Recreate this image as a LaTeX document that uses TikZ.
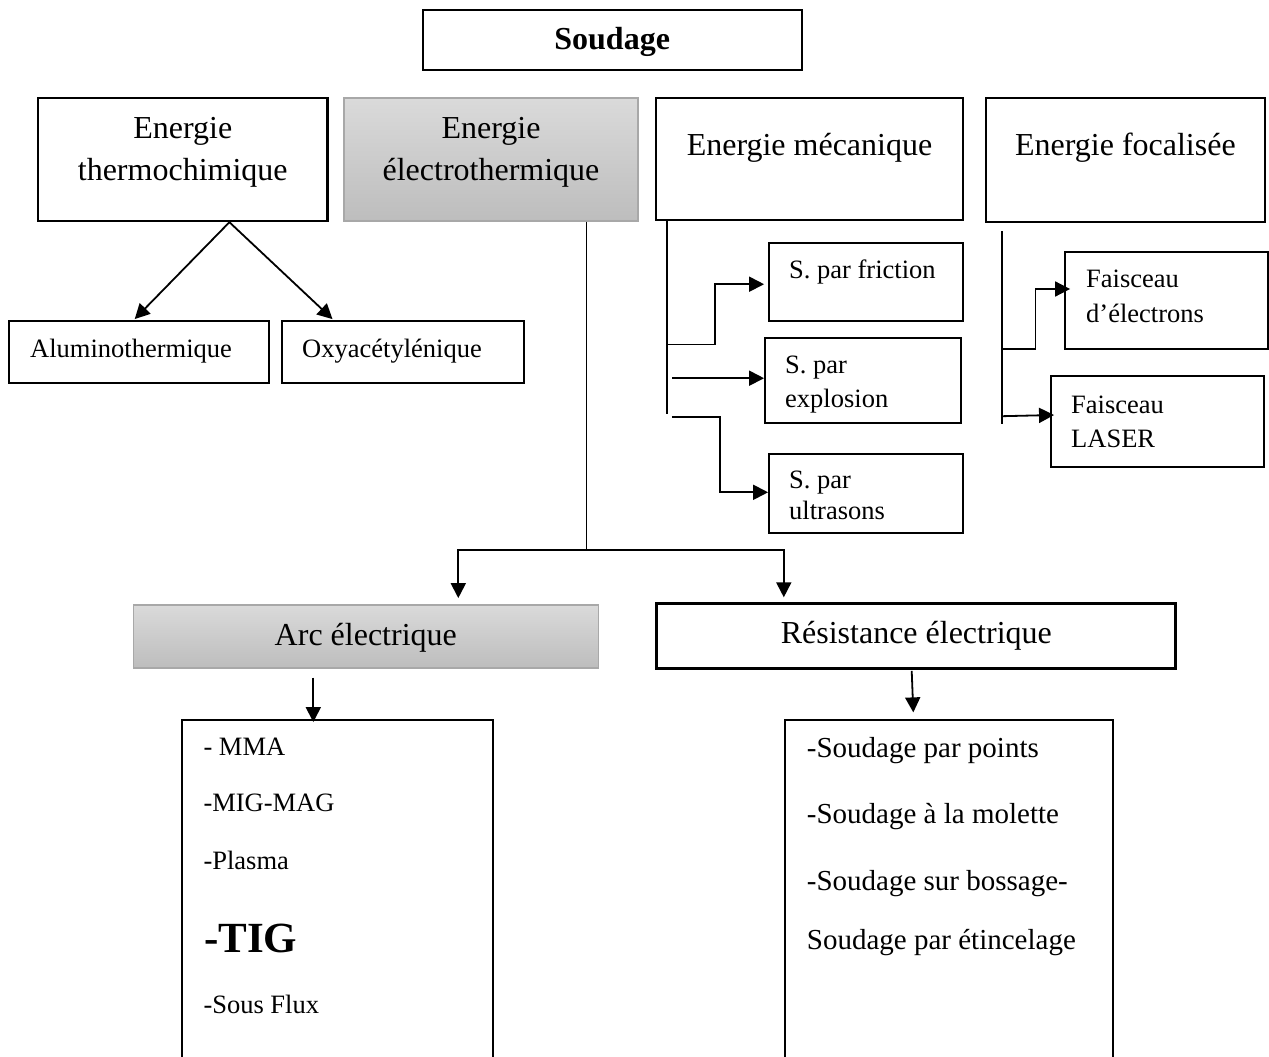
\documentclass[tikz,border=0pt]{standalone}
\usepackage{fontspec}
\setmainfont{Liberation Serif}
\usetikzlibrary{arrows.meta,calc}
\definecolor{gtop}{HTML}{DADADA}
\definecolor{gbot}{HTML}{BDBDBD}
\definecolor{gline}{HTML}{A8A8A8}
\begin{document}
\begin{tikzpicture}[x=1pt,y=-1pt,
  box/.style={draw=black, line width=1.8pt, inner sep=0pt, fill=white},
  bigbox/.style={box, line width=2.4pt},
  graybox/.style={draw=gline, line width=1.4pt, top color=gtop, bottom color=gbot, inner sep=0pt},
  conn/.style={line width=1.8pt, draw=black},
  arr/.style={-{Triangle[length=15pt,width=15pt]}},
  bigtxt/.style={font=\fontsize{32}{38}\selectfont, inner sep=0pt, anchor=base},
  midtxt/.style={font=\fontsize{29}{34}\selectfont, inner sep=0pt, anchor=base west},
  smalltxt/.style={font=\fontsize{26.5}{31}\selectfont, inner sep=0pt, anchor=base west}]
\clip (0,0) rectangle (1269,1057);
\fill[white] (0,0) rectangle (1269,1057);

% ---- boxes ----
\node[box, minimum width=379pt, minimum height=60pt] (soud) at (612.2,40) {};
\node[bigbox, minimum width=289.5pt, minimum height=123pt] (thermo) at (182.75,159.5) {};
\node[graybox, minimum width=294pt, minimum height=123pt] (electro) at (491,159.5) {};
\node[bigbox, minimum width=307pt, minimum height=122pt] (meca) at (809.5,159) {};
\node[bigbox, minimum width=279.3pt, minimum height=124pt] (focal) at (1125.4,160) {};
\node[box, minimum width=260pt, minimum height=62pt] (alu) at (139,352) {};
\node[box, minimum width=242pt, minimum height=62pt] (oxy) at (403,352) {};
\node[box, minimum width=194pt, minimum height=78pt] (fric) at (866,281.7) {};
\node[box, minimum width=196pt, minimum height=85pt] (expl) at (863,380.2) {};
\node[box, minimum width=194pt, minimum height=78.7pt] (ultra) at (866,493.3) {};
\node[box, minimum width=203pt, minimum height=97pt] (elec) at (1166.5,300.8) {};
\node[box, minimum width=213.3pt, minimum height=91pt] (laser) at (1157.3,421.2) {};
\node[graybox, minimum width=465pt, minimum height=63pt] (arc) at (365.8,636.5) {};
\node[bigbox, line width=3pt, minimum width=519.3pt, minimum height=65pt] (res) at (916.3,635.8) {};
\node[box, minimum width=310.4pt, minimum height=360pt] (mma) at (337.5,900) {};
\node[box, minimum width=328pt, minimum height=360pt] (list) at (949,900) {};

% ---- texts ----
\node[bigtxt, font=\fontsize{32}{38}\selectfont\bfseries] (soud-t) at (612.2,50) {Soudage};
\node[bigtxt] (thermo-t1) at (182.75,138) {Energie};
\node[bigtxt] (thermo-t2) at (182.75,180) {thermochimique};
\node[bigtxt] (electro-t1) at (491,138) {Energie};
\node[bigtxt] (electro-t2) at (491,180) {électrothermique};
\node[bigtxt] (meca-t) at (809.5,155) {Energie mécanique};
\node[bigtxt] (focal-t) at (1125.4,155) {Energie focalisée};
\node[smalltxt] (alu-t) at (30,357) {Aluminothermique};
\node[smalltxt] (oxy-t) at (302,357) {Oxyacétylénique};
\node[smalltxt] (fric-t) at (789,278) {S. par friction};
\node[smalltxt] (expl-t1) at (785,373) {S. par};
\node[smalltxt] (expl-t2) at (785,407) {explosion};
\node[smalltxt] (ultra-t1) at (789,488) {S. par};
\node[smalltxt] (ultra-t2) at (789,519) {ultrasons};
\node[smalltxt] (elec-t1) at (1086,287) {Faisceau};
\node[smalltxt] (elec-t2) at (1086,322) {d’électrons};
\node[smalltxt] (laser-t1) at (1071,413) {Faisceau};
\node[smalltxt] (laser-t2) at (1071,447) {LASER};
\node[bigtxt] (arc-t) at (365.8,645) {Arc électrique};
\node[bigtxt] (res-t) at (916.3,643.5) {Résistance électrique};
\node[smalltxt] (mma-t1) at (203.3,755) {- MMA};
\node[smalltxt] (mma-t2) at (203.3,811.7) {-MIG-MAG};
\node[smalltxt] (mma-t3) at (203.3,869.4) {-Plasma};
\node[smalltxt, font=\fontsize{43}{48}\selectfont\bfseries] (mma-t4) at (204,952) {-TIG};
\node[smalltxt] (mma-t5) at (203.3,1013.5) {-Sous Flux};
\node[midtxt] (list-t1) at (806.7,757) {-Soudage par points};
\node[midtxt] (list-t2) at (806.7,823) {-Soudage à la molette};
\node[midtxt] (list-t3) at (806.7,890) {-Soudage sur bossage-};
\node[midtxt] (list-t4) at (806.7,949) {Soudage par étincelage};

% ---- connectors ----
\draw[conn,arr] ($(thermo.south)+(46.65,0)$) -- ($(alu.north)+(-4.3,-1)$);
\draw[conn,arr] ($(thermo.south)+(46.65,0)$) -- ($(oxy.north)+(-70.5,-1)$);

\coordinate (j) at ($(electro.south)+(95.5,328.5)$);
\draw[conn] ($(electro.south)+(95.5,0)$) -- (j);
\draw[conn,arr] (j) -| ($(arc.north)+(92.5,-6.2)$);
\draw[conn,arr] (j) -| ($(res.north)+(-132.5,-4.5)$);
\draw[conn,arr] ($(arc.south)+(-52.5,9)$) -- ($(mma.north)+(-24.2,3)$);
\draw[conn,arr] ($(res.south)+(-4.6,1)$) -- ($(list.north)+(-35.7,-6.7)$);

% mechanical branch
\coordinate (mtop) at ($(meca.south west)+(12,0)$);
\coordinate (mbot) at ($(mtop)+(0,193)$);
\coordinate (m1) at ($(mtop)+(0,123.3)$);
\draw[conn] (mtop) -- (mbot);
\draw[conn,arr] (m1) -- ++(48,0) |- ($(fric.west)+(-4,2.5)$);
\draw[conn,arr] ($(expl.west)+(-92,-2)$) -- ($(expl.west)+(0,-2)$);
\coordinate (m3) at ($(mtop)+(5,196)$);
\draw[conn,arr] (m3) -- ++(48,0) |- ($(ultra.west)+(0,-1)$);

% focused branch
\coordinate (ftop) at ($(focal.south west)+(17.3,8)$);
\coordinate (fbot) at ($(ftop)+(0,193)$);
\coordinate (f1) at ($(ftop)+(0,117.7)$);
\draw[conn] (ftop) -- (fbot);
\draw[conn,arr] (f1) -- ++(33.7,0) |- ($(elec.west)+(6,-11.8)$);
\draw[conn,arr] ($(ftop)+(0,185)$) -- ($(laser.west)+(4.3,-6.2)$);
\end{tikzpicture}
\end{document}
